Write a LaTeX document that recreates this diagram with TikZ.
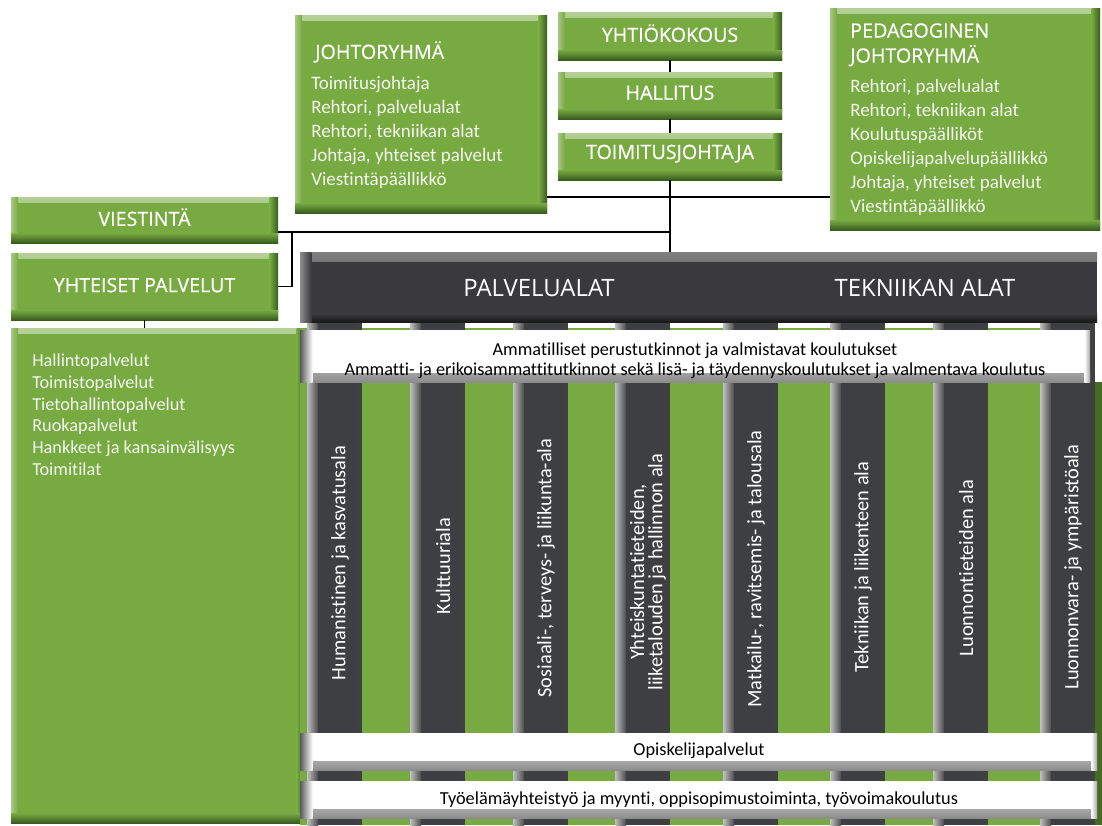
\documentclass[tikz,border=0pt]{standalone}
\usepackage{fontspec}
\setmainfont{Carlito}[Ligatures=NoCommon]
\newfontfamily\headfont{Open Sans}[BoldFont={Open Sans}, BoldFeatures={FakeBold=0.5}]
\usetikzlibrary{fit,calc,positioning}

\definecolor{boxgreen}{RGB}{120,170,66}
\definecolor{edgegreen}{RGB}{56,92,30}
\definecolor{coldark}{RGB}{62,63,67}
\definecolor{bardark}{RGB}{58,58,61}

\tikzset{
  greenbox/.style={fill=boxgreen, inner sep=0pt,
    path picture={
      \shade[top color=boxgreen!55!white, bottom color=boxgreen]
        (path picture bounding box.north west) rectangle ([yshift=-4pt]path picture bounding box.north east);
      \shade[left color=boxgreen!65!white, right color=boxgreen]
        (path picture bounding box.north west) rectangle ([xshift=5pt]path picture bounding box.south west);
      \shade[left color=boxgreen, right color=edgegreen]
        ([xshift=-6pt]path picture bounding box.north east) rectangle (path picture bounding box.south east);
      \shade[top color=boxgreen, bottom color=edgegreen]
        ([yshift=7pt]path picture bounding box.south west) rectangle (path picture bounding box.south east);
    }},
  boxhead/.style={text=white, inner sep=0pt, font=\headfont\bfseries\fontsize{14}{16}\selectfont},
  whitebar/.style={fill=white, inner sep=0pt,
    path picture={
      \shade[top color=white, bottom color=black!45]
        ([yshift=6pt]path picture bounding box.south west) rectangle (path picture bounding box.south east);
      \shade[left color=black!65, right color=white]
        (path picture bounding box.north west) rectangle ([xshift=9pt]path picture bounding box.south west);
      \shade[left color=white, right color=black!35]
        ([xshift=-4pt]path picture bounding box.north east) rectangle (path picture bounding box.south east);
    }},
  bartxt/.style={text=black, inner sep=0pt, align=center,
    font=\fontsize{13}{14.5}\selectfont},
  darkbar/.style={fill=bardark, inner sep=0pt,
    path picture={
      \shade[top color=black!50, bottom color=bardark]
        (path picture bounding box.north west) rectangle ([yshift=-7pt]path picture bounding box.north east);
      \shade[top color=bardark, bottom color=black!90]
        ([yshift=6pt]path picture bounding box.south west) rectangle (path picture bounding box.south east);
      \shade[left color=black!45, right color=bardark]
        (path picture bounding box.north west) rectangle ([xshift=8pt]path picture bounding box.south west);
    }},
  alattext/.style={text=white, font=\headfont\fontsize{17}{18}\selectfont},
  listtext/.style={text=white!92!boxgreen, inner sep=0pt, anchor=north west, align=left,
    font=\fontsize{13.5}{17}\selectfont},
  headtext/.style={text=white, inner sep=0pt, anchor=north west, align=left,
    font=\headfont\bfseries\fontsize{14}{17.8}\selectfont},
  coltext/.style={text=white, rotate=90, align=center,
    font=\fontsize{14.5}{13}\selectfont},
  conn/.style={line width=1.4pt, black}
}

\begin{document}
\begin{tikzpicture}[x=0.025cm, y=-0.025cm]
  \useasboundingbox (0,0) rectangle (1102,825);

  % left panel under the common services
  \node[greenbox, fit={(11,328) (305,823)}] (palv) {};
  \node[listtext, font=\fontsize{13}{15.4}\selectfont] (palvtxt) at (32,354)
    {Hallintopalvelut\\Toimistopalvelut\\Tietohallintopalvelut\\Ruokapalvelut\\Hankkeet ja kansainvälisyys\\Toimitilat};

  % field area with columns
  \fill[boxgreen] (300,328) rectangle (1095,825);
  \fill[edgegreen!80!boxgreen] (1095,382) rectangle (1102,825);
  \foreach \cx in {307,410,513,615,723,830,933,1040} {
    \shade[left color=black!25, right color=black!70] (\cx,322) rectangle (\cx+11,825);
    \fill[coldark] (\cx+11,322) rectangle (\cx+55,825);
    \fill[black!75] (\cx+50,322) rectangle (\cx+55,825);
  }

  % column labels
  \node[coltext] (ala1) at (340,563) {Humanistinen ja kasvatusala};
  \node[coltext] (ala2) at (443,566) {Kulttuuriala};
  \node[coltext] (ala3) at (546,568) {Sosiaali-, terveys- ja liikunta-ala};
  \node[coltext] (ala4) at (648,572) {Yhteiskuntatieteiden,\\liiketalouden ja hallinnon ala};
  \node[coltext] (ala5) at (756,569) {Matkailu-, ravitsemis- ja talousala};
  \node[coltext] (ala6) at (863,567) {Tekniikan ja liikenteen ala};
  \node[coltext] (ala7) at (966,568) {Luonnontieteiden ala};
  \node[coltext] (ala8) at (1073,567) {Luonnonvara- ja ympäristöala};

  % horizontal bars
  \node[whitebar, fit={(300,330) (1090,382)}] (tutk) {};
  \node[bartxt] (tutktxt) at (695,361) {Ammatilliset perustutkinnot ja valmistavat koulutukset\\Ammatti- ja erikoisammattitutkinnot sekä lisä- ja täydennyskoulutukset ja valmentava koulutus};
  \node[whitebar, fit={(300,733) (1097,770)}] (opis) {};
  \node[bartxt] (opistxt) at (699,751) {Opiskelijapalvelut};
  \node[whitebar, fit={(300,781) (1097,818)}] (tyo) {};
  \node[bartxt] (tyotxt) at (699,800) {Työelämäyhteistyö ja myynti, oppisopimustoiminta, työvoimakoulutus};

  \node[darkbar, fit={(300,252) (1097,322)}] (alat) {};
  \node[alattext] (palvalat) at (539,288) {PALVELUALAT};
  \node[alattext] (tekalat) at (925,288) {TEKNIIKAN ALAT};

  % top boxes
  \node[greenbox, fit={(295,15) (547,213)}] (johto) {};
  \node[headtext] (johtohead) at (315,41) {JOHTORYHMÄ};
  \node[listtext] (johtotxt) at (311,76)
    {Toimitusjohtaja\\Rehtori, palvelualat\\Rehtori, tekniikan alat\\Johtaja, yhteiset palvelut\\Viestintäpäällikkö};

  \node[greenbox, fit={(558,12) (782,60)}] (yhtio) {};
  \node[boxhead] (yhtiotxt) at ([yshift=2pt]yhtio.center) {YHTIÖKOKOUS};
  \node[greenbox, fit={(558,72) (782,119)}] (hall) {};
  \node[boxhead] (halltxt) at ([yshift=2pt]hall.center) {HALLITUS};
  \node[greenbox, fit={(558,133) (782,180)}] (toim) {};
  \node[boxhead] (toimtxt) at ([yshift=2pt]toim.center) {TOIMITUSJOHTAJA};

  \node[greenbox, fit={(830,8) (1100,230)}] (pedag) {};
  \node[headtext] (pedaghead) at (850,23) {PEDAGOGINEN\\JOHTORYHMÄ};
  \node[listtext] (pedagtxt) at (850,79)
    {Rehtori, palvelualat\\Rehtori, tekniikan alat\\Koulutuspäälliköt\\Opiskelijapalvelupäällikkö\\Johtaja, yhteiset palvelut\\Viestintäpäällikkö};

  \node[greenbox, fit={(11,197) (278,243)}] (viest) {};
  \node[boxhead] (viesttxt) at ([yshift=2pt]viest.center) {VIESTINTÄ};
  \node[greenbox, fit={(11,253) (278,320)}] (yht) {};
  \node[boxhead] (yhttxt) at ([yshift=1pt]yht.center) {YHTEISET PALVELUT};

  % connectors
  \coordinate (jp) at (668,197);
  \coordinate (vj) at (292,232);
  \draw[conn] (yhtio) -- (hall);
  \draw[conn] (hall) -- (toim);
  \draw[conn] (toim.south) -- (toim.south |- alat.north);
  \draw[conn] (johto.east |- jp) -- (pedag.west |- jp);
  \draw[conn] (viest.east |- vj) -- (vj -| toim.south);
  \draw[conn] (vj) |- (yht.east);
  \draw[conn] (yht.south) -- (yht.south |- palv.north);
\end{tikzpicture}
\end{document}
